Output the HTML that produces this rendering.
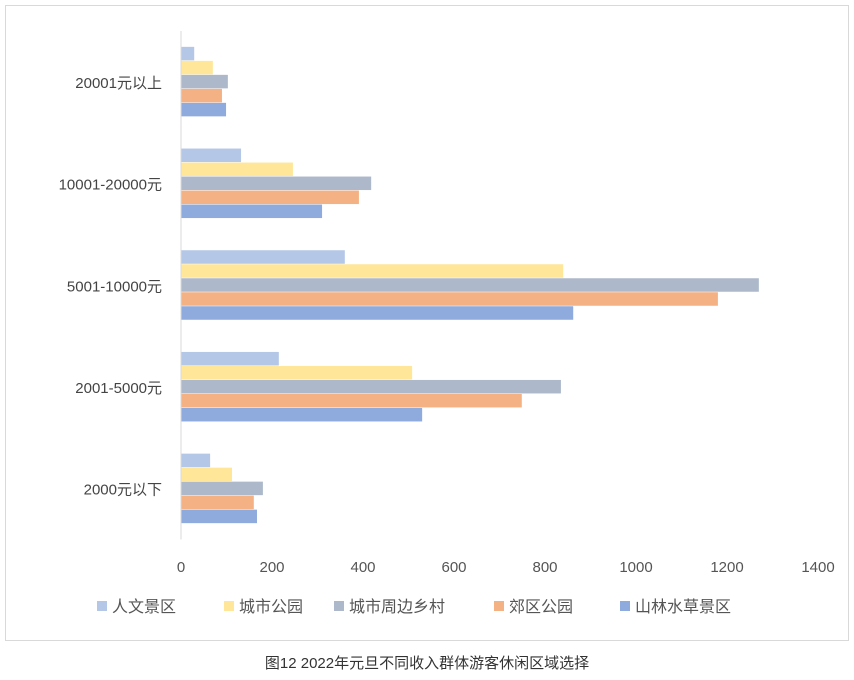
<!DOCTYPE html>
<html><head><meta charset="utf-8">
<style>
body{margin:0;background:#fff;width:854px;height:680px;overflow:hidden;font-family:"Liberation Sans","Noto Sans CJK SC",sans-serif;}
svg{position:absolute;left:0;top:0}
</style></head>
<body>
<svg id="chart" width="854" height="680">
<rect x="5.5" y="5.5" width="843" height="635" fill="#fff" stroke="#d9d9d9"/>
<g id="plot"></g>
<g id="legend"></g>
<text x="427" y="668" text-anchor="middle" font-size="15" fill="#333">图12 2022年元旦不同收入群体游客休闲区域选择</text>
</svg>
<script>
const categories = ["20001元以上","10001-20000元","5001-10000元","2001-5000元","2000元以下"];
const seriesNames = ["人文景区","城市公园","城市周边乡村","郊区公园","山林水草景区"];
const s1 = [29,132,360,215,64];
const s2 = [70,246,840,508,112];
const s3 = [103,418,1270,835,180];
const s4 = [90,391,1180,749,160];
const s5 = [99,310,862,530,167];
const ticks = [0,200,400,600,800,1000,1200,1400];
const series = [s1,s2,s3,s4,s5];
const colors = ["#b4c7e7","#ffe699","#adb9ca","#f4b183","#8faadc"];
const NS="http://www.w3.org/2000/svg";
const x0=181, xMax=818, yTop=31, band=101.7, barH=14;
function xs(v){return x0+(v/1400)*(xMax-x0);}
function yc(i){return yTop+band*i+band/2;}
const plot=document.getElementById('plot');
function mk(t,a){const e=document.createElementNS(NS,t);for(const k in a)e.setAttribute(k,a[k]);return e;}
categories.forEach((c,i)=>{
  const t=mk('text',{x:162,y:yc(i)+6,'text-anchor':'end','font-size':15,fill:'#444'});
  t.textContent=c;
  
  
  plot.appendChild(t);
  series.forEach((s,j)=>{
    const y=yc(i)-35+j*barH;
    const r=mk('rect',{x:x0,y:y,width:xs(s[i])-x0,height:barH-0.5,fill:colors[j]});
    
    
    plot.appendChild(r);
  });
});
const ax=mk('line',{x1:x0,x2:x0,y1:yTop,y2:yTop+band*5,stroke:'#d9d9d9','stroke-width':1});


plot.appendChild(ax);
ticks.forEach(v=>{
  const t=mk('text',{x:xs(v),y:572,'text-anchor':'middle','font-size':15,fill:'#555'});
  t.textContent=v;
  
  
  plot.appendChild(t);
});
const lg=document.getElementById('legend');
const lx=[97,224,334,494,620];
seriesNames.forEach((n,j)=>{
  const g=mk('g',{});
  
  
  g.appendChild(mk('rect',{x:lx[j],y:601,width:10,height:10,fill:colors[j]}));
  const t=mk('text',{x:lx[j]+15,y:612,'font-size':16,fill:'#555'});
  t.textContent=n;
  g.appendChild(t);
  lg.appendChild(g);
});
</script>
</body></html>
